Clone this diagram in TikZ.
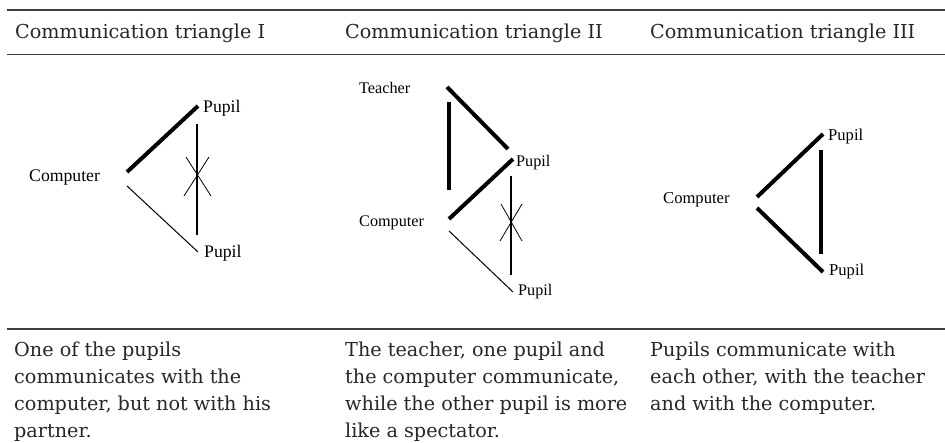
\documentclass[tikz,border=0pt]{standalone}
\usepackage{fontspec}
\setmainfont{DejaVu Serif}
\newfontfamily\labelfont{Liberation Serif}
\definecolor{txtgray}{HTML}{262626}
\definecolor{rulegray}{HTML}{404040}
\begin{document}
\begin{tikzpicture}[x=1pt,y=-1pt,
  rulestyle/.style={draw=rulegray,line width=1.7pt},
  headtext/.style={anchor=base west,inner sep=0pt,text=txtgray,font=\fontsize{19.2}{26.8}\selectfont},
  desctext/.style={anchor=north west,inner sep=0pt,align=left,text=txtgray,font=\fontsize{19.2}{26.8}\selectfont},
  lblI/.style={anchor=base west,inner sep=0pt,font=\labelfont\fontsize{17.7}{20}\selectfont},
  lblII/.style={anchor=base west,inner sep=0pt,font=\labelfont\fontsize{16.2}{19}\selectfont},
  lblIII/.style={anchor=base west,inner sep=0pt,font=\labelfont\fontsize{16.6}{19}\selectfont},
  thickline/.style={line width=4pt,line cap=butt},
  medline/.style={line width=2.6pt,line cap=butt},
  thinline/.style={line width=1pt,line cap=butt},
  crossline/.style={line width=0.8pt}]
\useasboundingbox (0,0) rectangle (945,443);
% rules
\coordinate (r1a) at (7,10);    \coordinate (r1b) at (945,10);
\coordinate (r2a) at (7,54.5);  \coordinate (r2b) at (945,54.5);
\coordinate (r3a) at (7,329);   \coordinate (r3b) at (945,329);
\draw[rulestyle] (r1a) -- (r1b);
\draw[rulestyle] (r2a) -- (r2b);
\draw[rulestyle] (r3a) -- (r3b);
% headers
\node[headtext] (h1) at (15,38.5) {Communication triangle I};
\node[headtext] (h2) at (345,38.5) {Communication triangle II};
\node[headtext] (h3) at (650,38.5) {Communication triangle III};
% descriptions (first baseline at 356.5; strut height = 0.7*26.8 = 18.76)
\node[desctext] (d1) at (14,337.7) {\strut One of the pupils\\communicates with the\\computer, but not with his\\partner.};
\node[desctext] (d2) at (345,337.7) {\strut The teacher, one pupil and\\the computer communicate,\\while the other pupil is more\\like a spectator.};
\node[desctext] (d3) at (650,337.7) {\strut Pupils communicate with\\each other, with the teacher\\and with the computer.};
% ---- Panel I
\node[lblI] (cI) at (29,182) {Computer};
\node[lblI] (pIa) at (203,113) {Pupil};
\node[lblI] (pIb) at (204,258) {Pupil};
\coordinate (Ia1) at (127,172); \coordinate (Ia2) at (198,106);
\coordinate (Ib1) at (127,186); \coordinate (Ib2) at (198,252);
\coordinate (Iv1) at (197,124); \coordinate (Iv2) at (197,235);
\coordinate (Ix1) at (186,157); \coordinate (Ix2) at (211,196);
\coordinate (Ix3) at (209,157); \coordinate (Ix4) at (184,196);
\draw[thickline] (Ia1) -- (Ia2);
\draw[thinline] (Ib1) -- (Ib2);
\draw[medline] (Iv1) -- (Iv2);
\draw[crossline] (Ix1) -- (Ix2);
\draw[crossline] (Ix3) -- (Ix4);
% ---- Panel II
\node[lblII] (tII) at (359,93.3) {Teacher};
\node[lblII] (pIIa) at (516,166.7) {Pupil};
\node[lblII] (cII) at (359,226.7) {Computer};
\node[lblII] (pIIb) at (518,295.7) {Pupil};
\coordinate (IIa1) at (447,87);  \coordinate (IIa2) at (508,149);
\coordinate (IIb1) at (449,102); \coordinate (IIb2) at (449,190);
\coordinate (IIc1) at (449,219); \coordinate (IIc2) at (513,159);
\coordinate (IIv1) at (511,176); \coordinate (IIv2) at (511,275);
\coordinate (IIx1) at (501,204); \coordinate (IIx2) at (522,241);
\coordinate (IIx3) at (522,204); \coordinate (IIx4) at (500,241);
\coordinate (IId1) at (449,231); \coordinate (IId2) at (513,292);
\draw[thickline] (IIa1) -- (IIa2);
\draw[thickline] (IIb1) -- (IIb2);
\draw[thickline] (IIc1) -- (IIc2);
\draw[medline] (IIv1) -- (IIv2);
\draw[crossline] (IIx1) -- (IIx2);
\draw[crossline] (IIx3) -- (IIx4);
\draw[thinline] (IId1) -- (IId2);
% ---- Panel III
\node[lblIII] (cIII) at (663,204) {Computer};
\node[lblIII] (pIIIa) at (828,140.7) {Pupil};
\node[lblIII] (pIIIb) at (829,275.7) {Pupil};
\coordinate (IIIa1) at (757,197); \coordinate (IIIa2) at (823,134);
\coordinate (IIIb1) at (821,150); \coordinate (IIIb2) at (821,254);
\coordinate (IIIc1) at (757,208); \coordinate (IIIc2) at (823,272);
\draw[thickline] (IIIa1) -- (IIIa2);
\draw[thickline] (IIIb1) -- (IIIb2);
\draw[thickline] (IIIc1) -- (IIIc2);
\end{tikzpicture}
\end{document}
